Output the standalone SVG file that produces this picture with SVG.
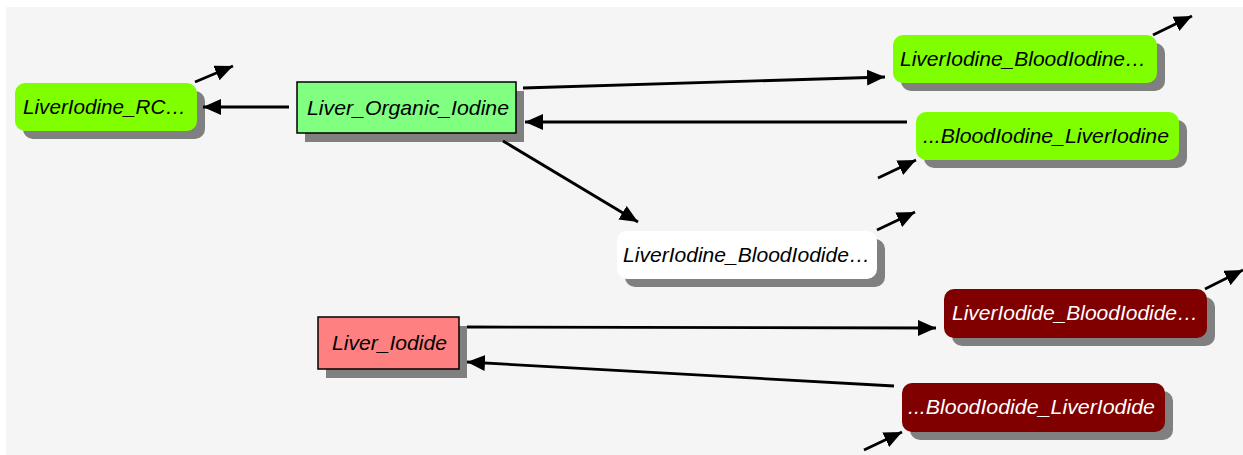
<svg xmlns="http://www.w3.org/2000/svg" width="1243" height="455" viewBox="0 0 1243 455">
<defs>
<style>
.bg{fill:#f5f5f5}
.sh{fill:#808080}
.g{fill:#80ff00}
.lg{fill:#80ff80;stroke:#000;stroke-width:1.5}
.pk{fill:#ff8080;stroke:#000;stroke-width:1.5}
.w{fill:#ffffff}
.dr{fill:#800000}
text{font-family:"Liberation Sans",Arial,sans-serif;font-style:italic;font-size:21px;fill:#000}
text.lt{fill:#fff}
.c line{stroke:#000;stroke-width:2.8;marker-end:url(#ah)}
</style>
<marker id="ah" markerUnits="userSpaceOnUse" markerWidth="20" markerHeight="18" refX="18" refY="8" orient="auto" viewBox="0 0 20 18">
<path d="M0,0 L18,8 L0,16 z" fill="#000"/>
</marker>
</defs>
<rect x="0" y="0" width="1243" height="455" fill="#fff"/>
<rect class="bg" x="6" y="7" width="1237" height="448"/>

<g id="n_rc">
<rect class="sh" x="23" y="91" width="182" height="48" rx="10"/>
<rect class="g" x="15" y="83" width="182" height="48" rx="10"/>
<text x="23" y="114" textLength="163" lengthAdjust="spacingAndGlyphs">LiverIodine_RC…</text>
</g>
<g id="n_organic">
<rect class="sh" x="305" y="91" width="219" height="51"/>
<rect class="lg" x="297" y="82" width="219" height="51"/>
<text x="307" y="115" textLength="202" lengthAdjust="spacingAndGlyphs">Liver_Organic_Iodine</text>
</g>
<g id="n_lib">
<rect class="sh" x="901" y="43" width="264" height="48" rx="10"/>
<rect class="g" x="893" y="35" width="264" height="48" rx="10"/>
<text x="900" y="66" textLength="246" lengthAdjust="spacingAndGlyphs">LiverIodine_BloodIodine…</text>
</g>
<g id="n_bil">
<rect class="sh" x="924" y="120" width="263" height="48" rx="10"/>
<rect class="g" x="916" y="112" width="263" height="48" rx="10"/>
<text x="923" y="143" textLength="246" lengthAdjust="spacingAndGlyphs">...BloodIodine_LiverIodine</text>
</g>
<g id="n_libd">
<rect class="sh" x="625" y="239" width="260" height="48" rx="10"/>
<rect class="w" x="617" y="231" width="260" height="48" rx="10"/>
<text x="623" y="262" textLength="247" lengthAdjust="spacingAndGlyphs">LiverIodine_BloodIodide…</text>
</g>
<g id="n_iodide">
<rect class="sh" x="326" y="326" width="141" height="52"/>
<rect class="pk" x="318" y="317" width="141" height="52"/>
<text x="332" y="350" textLength="115" lengthAdjust="spacingAndGlyphs">Liver_Iodide</text>
</g>
<g id="n_lidbd">
<rect class="sh" x="952" y="297" width="263" height="49" rx="10"/>
<rect class="dr" x="944" y="289" width="263" height="49" rx="10"/>
<text class="lt" x="952" y="320" textLength="246" lengthAdjust="spacingAndGlyphs">LiverIodide_BloodIodide…</text>
</g>
<g id="n_bdld">
<rect class="sh" x="910" y="391" width="263" height="49" rx="10"/>
<rect class="dr" x="902" y="383" width="263" height="49" rx="10"/>
<text class="lt" x="908" y="414" textLength="247" lengthAdjust="spacingAndGlyphs">...BloodIodide_LiverIodide</text>
</g>

<g id="connectors" class="c">
<line x1="289" y1="107" x2="203" y2="107"/>
<line x1="523" y1="88" x2="885" y2="77"/>
<line x1="907" y1="122" x2="525" y2="122"/>
<line x1="503" y1="141" x2="638" y2="222"/>
<line x1="467" y1="327" x2="936" y2="328"/>
<line x1="894" y1="386" x2="467" y2="362"/>
<line x1="195" y1="82" x2="233" y2="66"/>
<line x1="1153" y1="35" x2="1192" y2="16"/>
<line x1="878" y1="178" x2="916" y2="160"/>
<line x1="877" y1="230" x2="915" y2="212"/>
<line x1="1205" y1="289" x2="1243" y2="270"/>
<line x1="864" y1="450" x2="902" y2="432"/>
</g>
</svg>
